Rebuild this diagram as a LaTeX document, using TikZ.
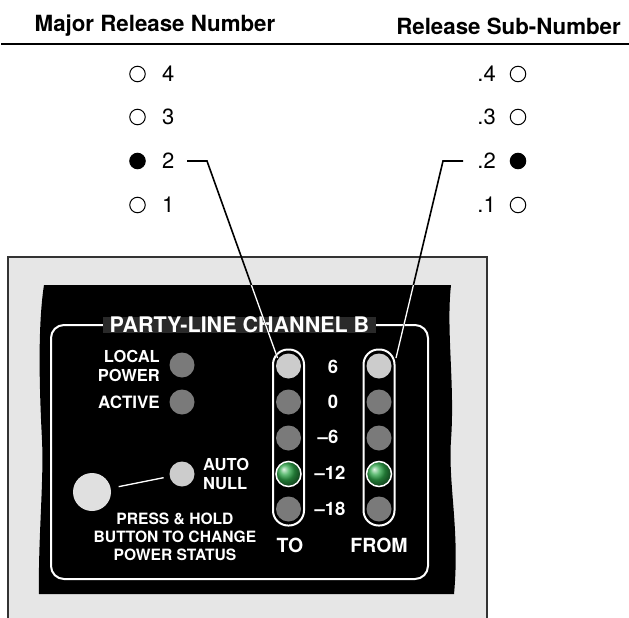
\documentclass[tikz,border=0pt]{standalone}
\usepackage{fontspec}
\setmainfont{TeX Gyre Heros}
\usetikzlibrary{calc}
\definecolor{panelgray}{HTML}{E6E6E6}
\definecolor{frameline}{HTML}{333333}
\definecolor{leddark}{HTML}{7A7A7A}
\definecolor{ledlight}{HTML}{CCCCCC}
\definecolor{titlebg}{HTML}{2A2A2A}
\definecolor{ledgreen}{HTML}{2FA84A}
\begin{document}
\begin{tikzpicture}[x=1pt,y=-1pt,
  hdr/.style={font=\bfseries\fontsize{22.3}{23}\selectfont, inner sep=0pt},
  num/.style={font=\fontsize{22}{22}\selectfont, inner sep=0pt},
  ind/.style={circle, draw=black, line width=1pt, minimum size=15.5pt, inner sep=0pt},
  indon/.style={ind, fill=black},
  wlbl/.style={font=\bfseries\fontsize{16.5}{18.3}\selectfont, text=white, inner sep=0pt},
  scl/.style={font=\bfseries\fontsize{18.5}{18.5}\selectfont, text=white, inner sep=0pt},
  led/.style={circle, minimum size=25pt, inner sep=0pt, fill=leddark},
  ledon/.style={circle, minimum size=25pt, inner sep=0pt, ball color=ledgreen, draw=white, line width=1.5pt},
  tube/.style={rectangle, rounded corners=15pt, draw=white, line width=2pt, minimum width=31pt, minimum height=176pt, inner sep=0pt},
  leader/.style={line width=1.6pt, draw=black},
  leaderw/.style={line width=1.3pt, draw=white}
]
\useasboundingbox (0,0) rectangle (629,618);
\fill[white] (0,0) rectangle (629,618);

% header
\node[hdr, anchor=center] (hmaj) at (155,26) {Major Release Number};
\node[hdr, anchor=east] (hsub) at (621,26) {Release Sub-Number};
\draw[line width=2pt] (1,44) -- (629,44);

% left indicators
\node[ind] (c4) at (137.5,74) {};
\node[ind] (c3) at (137.5,117) {};
\node[indon] (c2) at (137.5,161) {};
\node[ind] (c1) at (137.5,205) {};
\node[num, anchor=west] (n4) at (162,74) {4};
\node[num, anchor=west] (n3) at (162,117) {3};
\node[num, anchor=west] (n2) at (162,161) {2};
\node[num, anchor=west] (n1) at (162,205) {1};
% right indicators
\node[ind] (d4) at (518,74) {};
\node[ind] (d3) at (518,117) {};
\node[indon] (d2) at (518,161) {};
\node[ind] (d1) at (518,205) {};
\node[num, anchor=east] (m4) at (496,74) {.4};
\node[num, anchor=east] (m3) at (496,117) {.3};
\node[num, anchor=east] (m2) at (496,161) {.2};
\node[num, anchor=east] (m1) at (496,205) {.1};

% gray frame
\fill[panelgray] (8,257) rectangle (487,620);
\draw[frameline, line width=1.3pt] (8,620) -- (8,257) -- (487,257) -- (487,620);

% black panel with wavy sides
\def\panelpath{(44,285) -- (451,285) .. controls (446,330) and (455,385) .. (451,440) .. controls (448,485) and (460,530) .. (454,594) -- (39,594) .. controls (38,540) and (44,480) .. (42,440) .. controls (40,400) and (37,330) .. (44,285) -- cycle}
\fill[black] \panelpath;

% white rounded outline
\draw[white, line width=2pt, rounded corners=13pt] (51,325) rectangle (428,579);
\node[fill=titlebg, text=white, font=\bfseries\fontsize{21.5}{22}\selectfont, inner xsep=7pt, inner ysep=0pt, minimum height=16pt] (title) at (239.5,325) {PARTY-LINE CHANNEL B};

% left LEDs
\node[led] (lpw) at (182,365) {};
\node[led] (lact) at (182,402) {};
\node[led, fill=ledlight] (lauto) at (182,474) {};
\node[wlbl, anchor=east, align=right] (tlp) at (160,366) {LOCAL\\POWER};
\node[wlbl, anchor=east, font=\bfseries\fontsize{17}{18}\selectfont] (tact) at (160,402) {ACTIVE};
\node[wlbl, anchor=west, align=left] (tauto) at (203,474) {AUTO\\NULL};
\node[circle, fill=ledlight!60!white, minimum size=38pt, inner sep=0pt] (btn) at (92,492) {};
\draw[white, line width=1.3pt, shorten <=8pt, shorten >=6pt] (btn) -- (lauto);
\node[wlbl, font=\bfseries\fontsize{15.6}{18.3}\selectfont, align=center] (tpress) at (175,537) {PRESS \& HOLD\\BUTTON TO CHANGE\\POWER STATUS};

% meters
\node[tube] (totube) at (288.5,437.5) {};
\node[tube] (fromtube) at (379,437.5) {};
\foreach \y/\n in {402/2,438/3,509/5}{
  \node[led] (to\n) at (288.5,\y) {};
  \node[led] (fr\n) at (379,\y) {};
}
\node[led, fill=ledlight] (to1) at (288.5,366) {};
\node[led, fill=ledlight] (fr1) at (379,366) {};
\node[ledon] (to4) at (288.5,474) {};
\node[ledon] (fr4) at (379,474) {};

\node[scl] (s6) at (333,367) {6};
\node[scl] (s0) at (333,402) {0};
\node[scl] (sm6) at (328,437) {\textendash 6};
\node[scl] (sm12) at (330,473) {\textendash 12};
\node[scl] (sm18) at (330,509) {\textendash 18};
\node[font=\bfseries\fontsize{19.5}{19.5}\selectfont, text=white, inner sep=0pt] (tto) at (290,545) {TO};
\node[font=\bfseries\fontsize{19.5}{19.5}\selectfont, text=white, inner sep=0pt] (tfrom) at (379,545) {FROM};

% leader lines
\coordinate (a1) at (187,161);
\coordinate (a2) at (207,161);
\coordinate (a3) at (277.5,358);
\coordinate (b1) at (463,161);
\coordinate (b2) at (443,161);
\coordinate (b3) at (396,358);
\draw[leader] (a1) -- (a2) -- (a3);
\draw[leader] (b1) -- (b2) -- (b3);
\begin{scope}
\clip \panelpath;
\draw[leaderw] (a2) -- (a3);
\draw[leaderw] (b2) -- (b3);
\end{scope}
\end{tikzpicture}
\end{document}
